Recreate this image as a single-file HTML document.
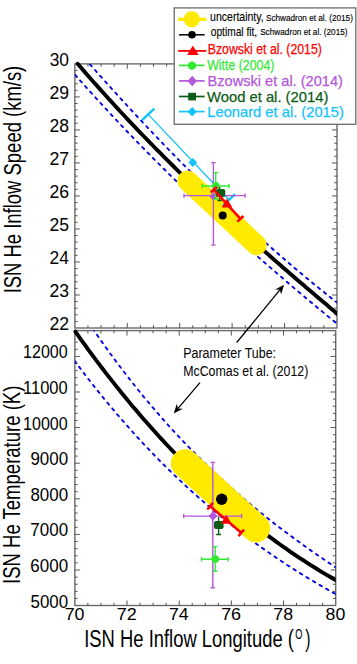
<!DOCTYPE html>
<html><head><meta charset="utf-8"><style>
html,body{margin:0;padding:0;background:#fff;width:357px;height:664px;overflow:hidden}
svg{display:block}
text{font-family:"Liberation Sans",sans-serif}
</style></head><body>
<svg width="357" height="664" viewBox="0 0 357 664" font-family="Liberation Sans, sans-serif">
<rect width="357" height="664" fill="#fff"/>
<defs>
<clipPath id="ct"><rect x="74.85" y="63.9" width="262.15" height="264.1"/></clipPath>
<clipPath id="cb"><rect x="74.85" y="330.6" width="260.85" height="274.9"/></clipPath>
<clipPath id="ctb"><rect x="74.85" y="57.9" width="262.15" height="270.1"/></clipPath>
<clipPath id="cbb"><rect x="70.85" y="327.6" width="264.85" height="277.9"/></clipPath>
</defs>
<rect x="74.85" y="63.9" width="262.15" height="264.1" fill="none" stroke="#6b6b6b" stroke-width="1.4"/><path d="M87.96,328.0 v-2.8 M87.96,63.9 v2.8 M101.06,328.0 v-2.8 M101.06,63.9 v2.8 M114.17,328.0 v-2.8 M114.17,63.9 v2.8 M127.28,328.0 v-5 M127.28,63.9 v5 M140.39,328.0 v-2.8 M140.39,63.9 v2.8 M153.50,328.0 v-2.8 M153.50,63.9 v2.8 M166.60,328.0 v-2.8 M166.60,63.9 v2.8 M179.71,328.0 v-5 M179.71,63.9 v5 M192.82,328.0 v-2.8 M192.82,63.9 v2.8 M205.92,328.0 v-2.8 M205.92,63.9 v2.8 M219.03,328.0 v-2.8 M219.03,63.9 v2.8 M232.14,328.0 v-5 M232.14,63.9 v5 M245.25,328.0 v-2.8 M245.25,63.9 v2.8 M258.35,328.0 v-2.8 M258.35,63.9 v2.8 M271.46,328.0 v-2.8 M271.46,63.9 v2.8 M284.57,328.0 v-5 M284.57,63.9 v5 M297.68,328.0 v-2.8 M297.68,63.9 v2.8 M310.78,328.0 v-2.8 M310.78,63.9 v2.8 M323.89,328.0 v-2.8 M323.89,63.9 v2.8 M74.85,321.40 h2.8 M337.0,321.40 h-2.8 M74.85,314.80 h2.8 M337.0,314.80 h-2.8 M74.85,308.19 h2.8 M337.0,308.19 h-2.8 M74.85,301.59 h2.8 M337.0,301.59 h-2.8 M74.85,294.99 h5 M337.0,294.99 h-5 M74.85,288.39 h2.8 M337.0,288.39 h-2.8 M74.85,281.78 h2.8 M337.0,281.78 h-2.8 M74.85,275.18 h2.8 M337.0,275.18 h-2.8 M74.85,268.58 h2.8 M337.0,268.58 h-2.8 M74.85,261.98 h5 M337.0,261.98 h-5 M74.85,255.37 h2.8 M337.0,255.37 h-2.8 M74.85,248.77 h2.8 M337.0,248.77 h-2.8 M74.85,242.17 h2.8 M337.0,242.17 h-2.8 M74.85,235.56 h2.8 M337.0,235.56 h-2.8 M74.85,228.96 h5 M337.0,228.96 h-5 M74.85,222.36 h2.8 M337.0,222.36 h-2.8 M74.85,215.76 h2.8 M337.0,215.76 h-2.8 M74.85,209.15 h2.8 M337.0,209.15 h-2.8 M74.85,202.55 h2.8 M337.0,202.55 h-2.8 M74.85,195.95 h5 M337.0,195.95 h-5 M74.85,189.35 h2.8 M337.0,189.35 h-2.8 M74.85,182.75 h2.8 M337.0,182.75 h-2.8 M74.85,176.14 h2.8 M337.0,176.14 h-2.8 M74.85,169.54 h2.8 M337.0,169.54 h-2.8 M74.85,162.94 h5 M337.0,162.94 h-5 M74.85,156.34 h2.8 M337.0,156.34 h-2.8 M74.85,149.73 h2.8 M337.0,149.73 h-2.8 M74.85,143.13 h2.8 M337.0,143.13 h-2.8 M74.85,136.53 h2.8 M337.0,136.53 h-2.8 M74.85,129.93 h5 M337.0,129.93 h-5 M74.85,123.32 h2.8 M337.0,123.32 h-2.8 M74.85,116.72 h2.8 M337.0,116.72 h-2.8 M74.85,110.12 h2.8 M337.0,110.12 h-2.8 M74.85,103.51 h2.8 M337.0,103.51 h-2.8 M74.85,96.91 h5 M337.0,96.91 h-5 M74.85,90.31 h2.8 M337.0,90.31 h-2.8 M74.85,83.71 h2.8 M337.0,83.71 h-2.8 M74.85,77.10 h2.8 M337.0,77.10 h-2.8 M74.85,70.50 h2.8 M337.0,70.50 h-2.8 " stroke="#555" stroke-width="1.0" fill="none"/>
<rect x="74.85" y="330.6" width="260.85" height="274.9" fill="none" stroke="#6b6b6b" stroke-width="1.4"/><path d="M87.89,605.5 v-2.8 M87.89,330.6 v2.8 M100.94,605.5 v-2.8 M100.94,330.6 v2.8 M113.98,605.5 v-2.8 M113.98,330.6 v2.8 M127.02,605.5 v-5 M127.02,330.6 v5 M140.06,605.5 v-2.8 M140.06,330.6 v2.8 M153.11,605.5 v-2.8 M153.11,330.6 v2.8 M166.15,605.5 v-2.8 M166.15,330.6 v2.8 M179.19,605.5 v-5 M179.19,330.6 v5 M192.23,605.5 v-2.8 M192.23,330.6 v2.8 M205.28,605.5 v-2.8 M205.28,330.6 v2.8 M218.32,605.5 v-2.8 M218.32,330.6 v2.8 M231.36,605.5 v-5 M231.36,330.6 v5 M244.40,605.5 v-2.8 M244.40,330.6 v2.8 M257.45,605.5 v-2.8 M257.45,330.6 v2.8 M270.49,605.5 v-2.8 M270.49,330.6 v2.8 M283.53,605.5 v-5 M283.53,330.6 v5 M296.57,605.5 v-2.8 M296.57,330.6 v2.8 M309.62,605.5 v-2.8 M309.62,330.6 v2.8 M322.66,605.5 v-2.8 M322.66,330.6 v2.8 M74.85,598.48 h2.8 M335.7,598.48 h-2.8 M74.85,591.36 h2.8 M335.7,591.36 h-2.8 M74.85,584.24 h2.8 M335.7,584.24 h-2.8 M74.85,577.12 h2.8 M335.7,577.12 h-2.8 M74.85,570.00 h5 M335.7,570.00 h-5 M74.85,562.88 h2.8 M335.7,562.88 h-2.8 M74.85,555.76 h2.8 M335.7,555.76 h-2.8 M74.85,548.64 h2.8 M335.7,548.64 h-2.8 M74.85,541.52 h2.8 M335.7,541.52 h-2.8 M74.85,534.40 h5 M335.7,534.40 h-5 M74.85,527.28 h2.8 M335.7,527.28 h-2.8 M74.85,520.16 h2.8 M335.7,520.16 h-2.8 M74.85,513.04 h2.8 M335.7,513.04 h-2.8 M74.85,505.92 h2.8 M335.7,505.92 h-2.8 M74.85,498.80 h5 M335.7,498.80 h-5 M74.85,491.68 h2.8 M335.7,491.68 h-2.8 M74.85,484.56 h2.8 M335.7,484.56 h-2.8 M74.85,477.44 h2.8 M335.7,477.44 h-2.8 M74.85,470.32 h2.8 M335.7,470.32 h-2.8 M74.85,463.20 h5 M335.7,463.20 h-5 M74.85,456.08 h2.8 M335.7,456.08 h-2.8 M74.85,448.96 h2.8 M335.7,448.96 h-2.8 M74.85,441.84 h2.8 M335.7,441.84 h-2.8 M74.85,434.72 h2.8 M335.7,434.72 h-2.8 M74.85,427.60 h5 M335.7,427.60 h-5 M74.85,420.48 h2.8 M335.7,420.48 h-2.8 M74.85,413.36 h2.8 M335.7,413.36 h-2.8 M74.85,406.24 h2.8 M335.7,406.24 h-2.8 M74.85,399.12 h2.8 M335.7,399.12 h-2.8 M74.85,392.00 h5 M335.7,392.00 h-5 M74.85,384.88 h2.8 M335.7,384.88 h-2.8 M74.85,377.76 h2.8 M335.7,377.76 h-2.8 M74.85,370.64 h2.8 M335.7,370.64 h-2.8 M74.85,363.52 h2.8 M335.7,363.52 h-2.8 M74.85,356.40 h5 M335.7,356.40 h-5 M74.85,349.28 h2.8 M335.7,349.28 h-2.8 M74.85,342.16 h2.8 M335.7,342.16 h-2.8 M74.85,335.04 h2.8 M335.7,335.04 h-2.8 " stroke="#555" stroke-width="1.0" fill="none"/>
<g clip-path="url(#ct)">
<path d="M75.00,47.23 L78.35,51.09 L81.71,54.94 L85.06,58.78 L88.42,62.60 L91.77,66.40 L95.13,70.19 L98.48,73.97 L101.84,77.73 L105.19,81.47 L108.54,85.21 L111.90,88.92 L115.25,92.63 L118.61,96.31 L121.96,99.99 L125.32,103.64 L128.67,107.29 L132.03,110.91 L135.38,114.53 L138.73,118.13 L142.09,121.71 L145.44,125.28 L148.80,128.83 L152.15,132.37 L155.51,135.89 L158.86,139.40 L162.22,142.89 L165.57,146.36 L168.92,149.82 L172.28,153.27 L175.63,156.70 L178.99,160.11 L182.34,163.51 L185.70,166.89 L189.05,170.26 L192.41,173.61 L195.76,176.95 L199.11,180.27 L202.47,183.57 L205.82,186.86 L209.18,190.13 L212.53,193.39 L215.89,196.63 L219.24,199.85 L222.59,203.06 L225.95,206.25 L229.30,209.43 L232.66,212.59 L236.01,215.73 L239.37,218.86 L242.72,221.97 L246.08,225.06 L249.43,228.14 L252.78,231.20 L256.14,234.25 L259.49,237.28 L262.85,240.29 L266.20,243.28 L269.56,246.26 L272.91,249.22 L276.27,252.17 L279.62,255.09 L282.97,258.01 L286.33,260.90 L289.68,263.78 L293.04,266.64 L296.39,269.48 L299.75,272.31 L303.10,275.11 L306.46,277.91 L309.81,280.68 L313.16,283.44 L316.52,286.18 L319.87,288.90 L323.23,291.61 L326.58,294.29 L329.94,296.96 L333.29,299.62 L336.65,302.25 L340.00,304.87" fill="none" stroke="#0505e6" stroke-width="1.9" stroke-dasharray="2.6 5.0" stroke-linecap="round"/>
<path d="M70.00,69.03 L73.42,72.92 L76.84,76.79 L80.25,80.64 L83.67,84.48 L87.09,88.29 L90.51,92.08 L93.92,95.85 L97.34,99.60 L100.76,103.33 L104.18,107.04 L107.59,110.73 L111.01,114.41 L114.43,118.06 L117.85,121.70 L121.27,125.32 L124.68,128.92 L128.10,132.50 L131.52,136.06 L134.94,139.60 L138.35,143.13 L141.77,146.64 L145.19,150.13 L148.61,153.61 L152.03,157.07 L155.44,160.51 L158.86,163.93 L162.28,167.34 L165.70,170.73 L169.11,174.11 L172.53,177.47 L175.95,180.81 L179.37,184.14 L182.78,187.45 L186.20,190.75 L189.62,194.03 L193.04,197.30 L196.46,200.55 L199.87,203.79 L203.29,207.02 L206.71,210.23 L210.13,213.42 L213.54,216.60 L216.96,219.77 L220.38,222.93 L223.80,226.07 L227.22,229.20 L230.63,232.31 L234.05,235.41 L237.47,238.50 L240.89,241.58 L244.30,244.64 L247.72,247.70 L251.14,250.74 L254.56,253.77 L257.97,256.78 L261.39,259.79 L264.81,262.78 L268.23,265.77 L271.65,268.74 L275.06,271.70 L278.48,274.65 L281.90,277.59 L285.32,280.53 L288.73,283.45 L292.15,286.36 L295.57,289.26 L298.99,292.15 L302.41,295.03 L305.82,297.91 L309.24,300.77 L312.66,303.62 L316.08,306.47 L319.49,309.31 L322.91,312.14 L326.33,314.96 L329.75,317.78 L333.16,320.58 L336.58,323.38 L340.00,326.17" fill="none" stroke="#0505e6" stroke-width="1.9" stroke-dasharray="2.6 5.0" stroke-linecap="round"/>
</g><g clip-path="url(#ctb)">
<path d="M77.60,63.71 L80.92,67.55 L84.24,71.37 L87.56,75.17 L90.89,78.94 L94.21,82.69 L97.53,86.42 L100.85,90.13 L104.17,93.82 L107.49,97.49 L110.82,101.13 L114.14,104.76 L117.46,108.36 L120.78,111.95 L124.10,115.51 L127.42,119.06 L130.74,122.58 L134.07,126.09 L137.39,129.58 L140.71,133.05 L144.03,136.50 L147.35,139.93 L150.67,143.35 L153.99,146.74 L157.32,150.12 L160.64,153.48 L163.96,156.83 L167.28,160.16 L170.60,163.47 L173.92,166.76 L177.25,170.04 L180.57,173.31 L183.89,176.56 L187.21,179.79 L190.53,183.01 L193.85,186.21 L197.17,189.40 L200.50,192.57 L203.82,195.73 L207.14,198.88 L210.46,202.01 L213.78,205.13 L217.10,208.23 L220.43,211.32 L223.75,214.40 L227.07,217.47 L230.39,220.52 L233.71,223.57 L237.03,226.60 L240.35,229.62 L243.68,232.63 L247.00,235.62 L250.32,238.61 L253.64,241.58 L256.96,244.55 L260.28,247.50 L263.61,250.45 L266.93,253.38 L270.25,256.31 L273.57,259.23 L276.89,262.13 L280.21,265.03 L283.53,267.92 L286.86,270.81 L290.18,273.68 L293.50,276.55 L296.82,279.41 L300.14,282.26 L303.46,285.10 L306.78,287.94 L310.11,290.77 L313.43,293.60 L316.75,296.42 L320.07,299.23 L323.39,302.04 L326.71,304.84 L330.04,307.64 L333.36,310.43 L336.68,313.22 L340.00,316.00" fill="none" stroke="#000" stroke-width="3.9" stroke-linecap="round"/>
<line x1="187.5" y1="180.8" x2="256.5" y2="245.0" stroke="#ffea00" stroke-width="20.5" stroke-linecap="round"/>
</g>
<g clip-path="url(#cb)">
<path d="M80.00,309.67 L83.29,314.68 L86.58,319.62 L89.87,324.51 L93.16,329.34 L96.46,334.11 L99.75,338.83 L103.04,343.49 L106.33,348.09 L109.62,352.64 L112.91,357.14 L116.20,361.58 L119.49,365.97 L122.78,370.31 L126.08,374.59 L129.37,378.83 L132.66,383.01 L135.95,387.15 L139.24,391.23 L142.53,395.27 L145.82,399.25 L149.11,403.19 L152.41,407.08 L155.70,410.93 L158.99,414.73 L162.28,418.49 L165.57,422.20 L168.86,425.86 L172.15,429.48 L175.44,433.06 L178.73,436.60 L182.03,440.10 L185.32,443.55 L188.61,446.96 L191.90,450.34 L195.19,453.67 L198.48,456.97 L201.77,460.22 L205.06,463.44 L208.35,466.63 L211.65,469.77 L214.94,472.88 L218.23,475.96 L221.52,479.00 L224.81,482.00 L228.10,484.97 L231.39,487.91 L234.68,490.82 L237.97,493.70 L241.27,496.54 L244.56,499.35 L247.85,502.14 L251.14,504.89 L254.43,507.62 L257.72,510.31 L261.01,512.98 L264.30,515.62 L267.59,518.24 L270.89,520.83 L274.18,523.39 L277.47,525.93 L280.76,528.45 L284.05,530.94 L287.34,533.41 L290.63,535.86 L293.92,538.28 L297.22,540.68 L300.51,543.07 L303.80,545.43 L307.09,547.77 L310.38,550.10 L313.67,552.40 L316.96,554.69 L320.25,556.96 L323.54,559.22 L326.84,561.46 L330.13,563.68 L333.42,565.89 L336.71,568.09 L340.00,570.27" fill="none" stroke="#0505e6" stroke-width="1.9" stroke-dasharray="2.6 5.0" stroke-linecap="round"/>
<path d="M70.00,354.66 L73.42,359.30 L76.84,363.88 L80.25,368.42 L83.67,372.91 L87.09,377.35 L90.51,381.73 L93.92,386.07 L97.34,390.37 L100.76,394.61 L104.18,398.81 L107.59,402.95 L111.01,407.06 L114.43,411.11 L117.85,415.12 L121.27,419.09 L124.68,423.01 L128.10,426.89 L131.52,430.72 L134.94,434.50 L138.35,438.25 L141.77,441.95 L145.19,445.61 L148.61,449.22 L152.03,452.80 L155.44,456.33 L158.86,459.82 L162.28,463.27 L165.70,466.68 L169.11,470.05 L172.53,473.39 L175.95,476.68 L179.37,479.93 L182.78,483.15 L186.20,486.32 L189.62,489.46 L193.04,492.56 L196.46,495.63 L199.87,498.66 L203.29,501.65 L206.71,504.61 L210.13,507.53 L213.54,510.42 L216.96,513.28 L220.38,516.10 L223.80,518.88 L227.22,521.63 L230.63,524.35 L234.05,527.04 L237.47,529.70 L240.89,532.32 L244.30,534.92 L247.72,537.48 L251.14,540.01 L254.56,542.51 L257.97,544.99 L261.39,547.43 L264.81,549.84 L268.23,552.23 L271.65,554.59 L275.06,556.92 L278.48,559.22 L281.90,561.50 L285.32,563.75 L288.73,565.97 L292.15,568.17 L295.57,570.34 L298.99,572.49 L302.41,574.61 L305.82,576.71 L309.24,578.79 L312.66,580.84 L316.08,582.87 L319.49,584.88 L322.91,586.86 L326.33,588.83 L329.75,590.77 L333.16,592.69 L336.58,594.59 L340.00,596.47" fill="none" stroke="#0505e6" stroke-width="1.9" stroke-dasharray="2.6 5.0" stroke-linecap="round"/>
</g><g clip-path="url(#cbb)">
<path d="M75.40,331.68 L78.75,336.41 L82.10,341.09 L85.45,345.73 L88.80,350.31 L92.15,354.86 L95.50,359.35 L98.85,363.81 L102.19,368.21 L105.54,372.57 L108.89,376.89 L112.24,381.16 L115.59,385.39 L118.94,389.58 L122.29,393.72 L125.64,397.81 L128.99,401.87 L132.34,405.88 L135.69,409.85 L139.04,413.78 L142.39,417.66 L145.74,421.51 L149.09,425.31 L152.44,429.07 L155.78,432.79 L159.13,436.47 L162.48,440.11 L165.83,443.71 L169.18,447.27 L172.53,450.79 L175.88,454.27 L179.23,457.71 L182.58,461.11 L185.93,464.48 L189.28,467.80 L192.63,471.09 L195.98,474.34 L199.33,477.56 L202.68,480.74 L206.03,483.88 L209.37,486.98 L212.72,490.05 L216.07,493.08 L219.42,496.08 L222.77,499.04 L226.12,501.97 L229.47,504.86 L232.82,507.71 L236.17,510.54 L239.52,513.33 L242.87,516.08 L246.22,518.80 L249.57,521.49 L252.92,524.15 L256.27,526.77 L259.62,529.36 L262.96,531.92 L266.31,534.45 L269.66,536.94 L273.01,539.41 L276.36,541.84 L279.71,544.24 L283.06,546.62 L286.41,548.96 L289.76,551.27 L293.11,553.55 L296.46,555.81 L299.81,558.03 L303.16,560.23 L306.51,562.40 L309.86,564.54 L313.21,566.65 L316.55,568.73 L319.90,570.79 L323.25,572.82 L326.60,574.82 L329.95,576.80 L333.30,578.75 L336.65,580.67 L340.00,582.57" fill="none" stroke="#000" stroke-width="3.9" stroke-linecap="round"/>
<line x1="185.0" y1="463.3" x2="256.0" y2="528.2" stroke="#ffea00" stroke-width="28.3" stroke-linecap="round"/>
</g>
<path d="M148.2,114.4 L229.0,199.8" stroke="#12c3fa" stroke-width="1.3" fill="none"/><path d="M154.30,108.63 L142.10,120.17 M235.10,194.03 L222.90,205.57" stroke="#12c3fa" stroke-width="2.4" fill="none"/>
<path d="M192.8,158.0 L197.10000000000002,162.5 L192.8,167.0 L188.5,162.5 Z" fill="#12c3fa"/>
<path d="M213.4,162.6 V245.1 M211.20000000000002,162.6 H215.6 M211.20000000000002,245.1 H215.6" stroke="#b457da" stroke-width="1.4" fill="none"/>
<path d="M184.0,195.6 H245.0 M184.0,193.4 V197.79999999999998 M245.0,193.4 V197.79999999999998" stroke="#b457da" stroke-width="1.4" fill="none"/>
<path d="M213.3,192.20000000000002 L217.3,196.4 L213.3,200.6 L209.3,196.4 Z" fill="#b457da"/>
<path d="M215.7,172.6 V199.0 M213.5,172.6 H217.89999999999998 M213.5,199.0 H217.89999999999998" stroke="#33e833" stroke-width="1.4" fill="none"/>
<path d="M202.3,186.0 H229.0 M202.3,183.8 V188.2 M229.0,183.8 V188.2" stroke="#33e833" stroke-width="1.4" fill="none"/>
<circle cx="215.8" cy="185.8" r="3.8" fill="#33e833"/>
<path d="M219.6,187 V200.5 M217.4,200.5 H221.8" stroke="#0b5c17" stroke-width="1.4" fill="none"/>
<rect x="215.9" y="188.9" width="9.4" height="8.0" rx="2.2" fill="#0b5c17"/>
<circle cx="222.7" cy="215.5" r="4.0" fill="#000"/>
<path d="M213.8,189.6 L240.4,218.8" stroke="#ff0000" stroke-width="2.5" fill="none"/><path d="M216.90,186.77 L210.70,192.43 M243.50,215.97 L237.30,221.63" stroke="#ff0000" stroke-width="2.5" fill="none"/>
<path d="M227.0,198.55 L232.25,207.55 L221.75,207.55 Z" fill="#ff0000"/>
<circle cx="221.7" cy="499.2" r="5.7" fill="#000"/>
<path d="M212.8,462.4 V587.7 M210.60000000000002,462.4 H215.0 M210.60000000000002,587.7 H215.0" stroke="#b457da" stroke-width="1.4" fill="none"/>
<path d="M183.7,516.1 H241.6 M183.7,513.9 V518.3000000000001 M241.6,513.9 V518.3000000000001" stroke="#b457da" stroke-width="1.4" fill="none"/>
<path d="M212.9,511.2 L217.3,516.0 L212.9,520.8 L208.5,516.0 Z" fill="#b457da"/>
<path d="M218.6,517 V534.5 M216.2,534.5 H221.0" stroke="#0b5c17" stroke-width="1.4" fill="none"/>
<rect x="214.0" y="521.0" width="9.6" height="7.9" rx="2.0" fill="#0b5c17"/>
<path d="M210.1,506.2 L241.3,532.8" stroke="#ff0000" stroke-width="2.5" fill="none"/><path d="M212.89,502.93 L207.31,509.47 M244.09,529.53 L238.51,536.07" stroke="#ff0000" stroke-width="2.5" fill="none"/>
<path d="M226.3,514.8499999999999 L231.55,523.8499999999999 L221.05,523.8499999999999 Z" fill="#ff0000"/>
<path d="M215.2,546.6 V571.0 M213.0,546.6 H217.39999999999998 M213.0,571.0 H217.39999999999998" stroke="#33e833" stroke-width="1.4" fill="none"/>
<path d="M201.5,559.2 H228.2 M201.5,557.0 V561.4000000000001 M228.2,557.0 V561.4000000000001" stroke="#33e833" stroke-width="1.4" fill="none"/>
<circle cx="215.2" cy="559.1" r="3.9" fill="#33e833"/>
<path d="M236.7,342.5 L279.88,289.84" stroke="#000" stroke-width="1.3" fill="none"/><path d="M284.1,284.7 L281.09,294.52 L279.88,289.84 L275.06,289.57 Z" fill="#000"/>
<path d="M200.0,382.7 L178.02,408.44" stroke="#000" stroke-width="1.3" fill="none"/><path d="M173.7,413.5 L176.90,403.74 L178.02,408.44 L182.83,408.81 Z" fill="#000"/>
<text x="49.51" y="330.30" font-size="17.43" font-weight="normal" fill="#000" textLength="19.71" lengthAdjust="spacingAndGlyphs">22</text>
<text x="49.52" y="297.29" font-size="17.43" font-weight="normal" fill="#000" textLength="19.62" lengthAdjust="spacingAndGlyphs">23</text>
<text x="49.53" y="264.28" font-size="17.43" font-weight="normal" fill="#000" textLength="19.33" lengthAdjust="spacingAndGlyphs">24</text>
<text x="49.52" y="231.26" font-size="17.43" font-weight="normal" fill="#000" textLength="19.52" lengthAdjust="spacingAndGlyphs">25</text>
<text x="49.52" y="198.25" font-size="17.43" font-weight="normal" fill="#000" textLength="19.62" lengthAdjust="spacingAndGlyphs">26</text>
<text x="49.51" y="165.24" font-size="17.43" font-weight="normal" fill="#000" textLength="19.71" lengthAdjust="spacingAndGlyphs">27</text>
<text x="49.52" y="132.23" font-size="17.43" font-weight="normal" fill="#000" textLength="19.52" lengthAdjust="spacingAndGlyphs">28</text>
<text x="49.52" y="99.21" font-size="17.43" font-weight="normal" fill="#000" textLength="19.62" lengthAdjust="spacingAndGlyphs">29</text>
<text x="49.70" y="66.20" font-size="17.43" font-weight="normal" fill="#000" textLength="19.33" lengthAdjust="spacingAndGlyphs">30</text>
<text x="30.52" y="607.60" font-size="17.43" font-weight="normal" fill="#000" textLength="37.54" lengthAdjust="spacingAndGlyphs">5000</text>
<text x="30.35" y="572.00" font-size="17.43" font-weight="normal" fill="#000" textLength="37.72" lengthAdjust="spacingAndGlyphs">6000</text>
<text x="30.35" y="536.40" font-size="17.43" font-weight="normal" fill="#000" textLength="37.72" lengthAdjust="spacingAndGlyphs">7000</text>
<text x="30.44" y="500.80" font-size="17.43" font-weight="normal" fill="#000" textLength="37.63" lengthAdjust="spacingAndGlyphs">8000</text>
<text x="30.44" y="465.20" font-size="17.43" font-weight="normal" fill="#000" textLength="37.63" lengthAdjust="spacingAndGlyphs">9000</text>
<text x="23.10" y="429.60" font-size="17.43" font-weight="normal" fill="#000" textLength="44.56" lengthAdjust="spacingAndGlyphs">10000</text>
<text x="23.06" y="394.00" font-size="17.43" font-weight="normal" fill="#000" textLength="44.62" lengthAdjust="spacingAndGlyphs">11000</text>
<text x="23.10" y="358.40" font-size="17.43" font-weight="normal" fill="#000" textLength="44.56" lengthAdjust="spacingAndGlyphs">12000</text>
<text x="64.66" y="620.10" font-size="16.86" font-weight="normal" fill="#000" textLength="19.85" lengthAdjust="spacingAndGlyphs">70</text>
<text x="116.82" y="620.10" font-size="16.86" font-weight="normal" fill="#000" textLength="20.04" lengthAdjust="spacingAndGlyphs">72</text>
<text x="169.01" y="620.10" font-size="16.86" font-weight="normal" fill="#000" textLength="19.66" lengthAdjust="spacingAndGlyphs">74</text>
<text x="221.16" y="620.10" font-size="16.86" font-weight="normal" fill="#000" textLength="19.95" lengthAdjust="spacingAndGlyphs">76</text>
<text x="273.34" y="620.10" font-size="16.86" font-weight="normal" fill="#000" textLength="19.85" lengthAdjust="spacingAndGlyphs">78</text>
<text x="325.60" y="620.10" font-size="16.86" font-weight="normal" fill="#000" textLength="19.75" lengthAdjust="spacingAndGlyphs">80</text>
<text x="84.24" y="646.70" font-size="23.55" font-weight="normal" fill="#000" textLength="209.64" lengthAdjust="spacingAndGlyphs">ISN He Inflow Longitude (</text>
<text x="295.29" y="639.20" font-size="13.96" font-weight="normal" fill="#000" textLength="7.15" lengthAdjust="spacingAndGlyphs">O</text>
<text x="305.14" y="646.70" font-size="23.55" font-weight="normal" fill="#000" textLength="5.25" lengthAdjust="spacingAndGlyphs">)</text>
<text transform="translate(20.90,293.36) rotate(-90)" x="0" y="0" font-size="23.55" fill="#000" textLength="227.62" lengthAdjust="spacingAndGlyphs">ISN He Inflow Speed (km/s)</text>
<text transform="translate(19.50,583.97) rotate(-90)" x="0" y="0" font-size="23.69" fill="#000" textLength="198.33" lengthAdjust="spacingAndGlyphs">ISN He Temperature (K)</text>
<text x="183.20" y="357.50" font-size="15.26" font-weight="normal" fill="#000" textLength="92.86" lengthAdjust="spacingAndGlyphs">Parameter Tube:</text>
<text x="183.21" y="375.70" font-size="15.26" font-weight="normal" fill="#000" textLength="125.09" lengthAdjust="spacingAndGlyphs">McComas et al. (2012)</text>
<rect x="174.2" y="7.9" width="181.6" height="116.4" fill="#fff" stroke="#6b6b6b" stroke-width="1.3"/>
<line x1="178.1" y1="19.3" x2="206.3" y2="19.3" stroke="#ffea00" stroke-width="3.4"/>
<circle cx="191.8" cy="19.3" r="8.1" fill="#ffea00"/>
<line x1="179" y1="34.8" x2="204.6" y2="34.8" stroke="#000" stroke-width="1.5"/>
<circle cx="192" cy="34.8" r="3.8" fill="#000"/>
<line x1="178.1" y1="50.9" x2="206.3" y2="50.9" stroke="#ff0000" stroke-width="1.8"/>
<path d="M192.8,45.6 L198.6,55.1 L187.2,55.1 Z" fill="#ff0000"/>
<line x1="178.9" y1="65.4" x2="204.6" y2="65.4" stroke="#33e833" stroke-width="1.7"/>
<circle cx="192" cy="65.6" r="4.2" fill="#33e833"/>
<line x1="178.9" y1="80.9" x2="204.6" y2="80.9" stroke="#b457da" stroke-width="1.7"/>
<path d="M192.2,75.8 L196.89999999999998,81.0 L192.2,86.2 L187.5,81.0 Z" fill="#b457da"/>
<line x1="178.9" y1="96.5" x2="204.6" y2="96.5" stroke="#0b5c17" stroke-width="1.7"/>
<rect x="188.2" y="92.8" width="7.8" height="7.6" fill="#0b5c17"/>
<line x1="178.9" y1="111.6" x2="204.6" y2="111.6" stroke="#12c3fa" stroke-width="1.7"/>
<path d="M192.2,107.0 L196.7,111.7 L192.2,116.4 L187.7,111.7 Z" fill="#12c3fa"/>
<text x="210.12" y="21.10" font-size="12.69" font-weight="normal" fill="#000" textLength="53.58" lengthAdjust="spacingAndGlyphs" stroke="#000" stroke-width="0.12">uncertainty,</text>
<text x="265.93" y="20.80" font-size="9.59" font-weight="normal" fill="#000" textLength="86.98" lengthAdjust="spacingAndGlyphs" stroke="#000" stroke-width="0.15">Schwadron et al. (2015)</text>
<text x="210.79" y="35.60" font-size="12.69" font-weight="normal" fill="#000" textLength="46.39" lengthAdjust="spacingAndGlyphs" stroke="#000" stroke-width="0.12">optimal fit,</text>
<text x="260.13" y="35.40" font-size="9.59" font-weight="normal" fill="#000" textLength="87.49" lengthAdjust="spacingAndGlyphs" stroke="#000" stroke-width="0.15">Schwadron et al. (2015)</text>
<text x="207.72" y="54.20" font-size="14.53" font-weight="normal" fill="#ff0000" textLength="114.15" lengthAdjust="spacingAndGlyphs" stroke-width="0.25" stroke-linejoin="round" stroke="#ff0000">Bzowski et al. (2015)</text>
<text x="207.24" y="70.40" font-size="14.97" font-weight="normal" fill="#33e833" textLength="67.12" lengthAdjust="spacingAndGlyphs" stroke-width="0.25" stroke-linejoin="round" stroke="#33e833">Witte (2004)</text>
<text x="207.53" y="85.80" font-size="14.53" font-weight="normal" fill="#b457da" textLength="135.37" lengthAdjust="spacingAndGlyphs" stroke-width="0.25" stroke-linejoin="round" stroke="#b457da">Bzowski et al. (2014)</text>
<text x="207.03" y="101.60" font-size="15.12" font-weight="normal" fill="#0b5c17" textLength="121.31" lengthAdjust="spacingAndGlyphs" stroke-width="0.25" stroke-linejoin="round" stroke="#0b5c17">Wood et al. (2014)</text>
<text x="207.32" y="116.80" font-size="15.12" font-weight="normal" fill="#12c3fa" textLength="136.52" lengthAdjust="spacingAndGlyphs" stroke-width="0.25" stroke-linejoin="round" stroke="#12c3fa">Leonard et al. (2015)</text>
</svg>
</body></html>
